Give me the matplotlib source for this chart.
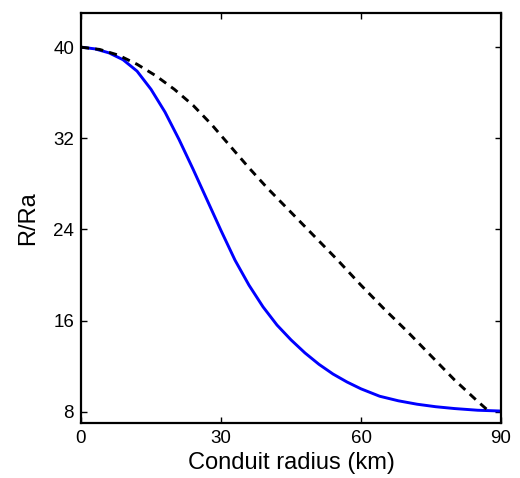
import matplotlib
matplotlib.use("Agg")
import matplotlib.pyplot as plt

# Blue solid curve
blue_x = [0, 3, 6, 9, 12, 15, 18, 21, 24, 27, 30, 33, 36, 39, 42, 45, 48, 51, 54,
          57, 60, 64, 68, 72, 76, 80, 85, 90]
blue_y = [40.0, 39.85, 39.5, 38.9, 37.9, 36.3, 34.3, 31.9, 29.3, 26.6, 23.9, 21.3, 19.1,
          17.2, 15.6, 14.3, 13.15, 12.15, 11.3, 10.6, 10.0, 9.35, 8.95, 8.65, 8.43, 8.27,
          8.12, 8.05]

# Black dashed curve
dash_x = [0, 4, 8, 12, 16, 20, 24, 28, 32, 36, 40, 45, 50, 55, 60, 65, 70, 75, 80,
          85, 87.5]
dash_y = [40.0, 39.8, 39.3, 38.5, 37.5, 36.3, 34.9, 33.2, 31.3, 29.4, 27.6, 25.5, 23.4,
          21.3, 19.1, 17.0, 15.0, 12.9, 10.8, 8.9, 8.0]

x_ticks = [0, 30, 60, 90]
y_ticks = [8, 16, 24, 32, 40]

plt.rcParams['font.family'] = ['Liberation Sans', 'DejaVu Sans']

fig = plt.figure(figsize=(5.2, 4.78), dpi=100)
ax = fig.add_axes([81/520, 1-423/478, (501-81)/520, (423-13)/478])

ax.plot(blue_x, blue_y, color='#0000ff', lw=2.1, solid_joinstyle='round')
ax.plot(dash_x, dash_y, color='black', lw=2.1, linestyle=(0, (2.8, 2.1)))

ax.set_xlim(0, 90)
ax.set_ylim(7, 43)
ax.set_xticks(x_ticks)
ax.set_yticks(y_ticks)
ax.tick_params(direction='in', length=4, width=1, top=True, right=True,
               labelsize=13.5, pad=5)
for s in ax.spines.values():
    s.set_linewidth(1.6)

ax.set_xlabel('Conduit radius (km)', fontsize=17, labelpad=4)
ax.set_ylabel('R/Ra', fontsize=17, labelpad=10)

fig.savefig('out.png', dpi=100)
